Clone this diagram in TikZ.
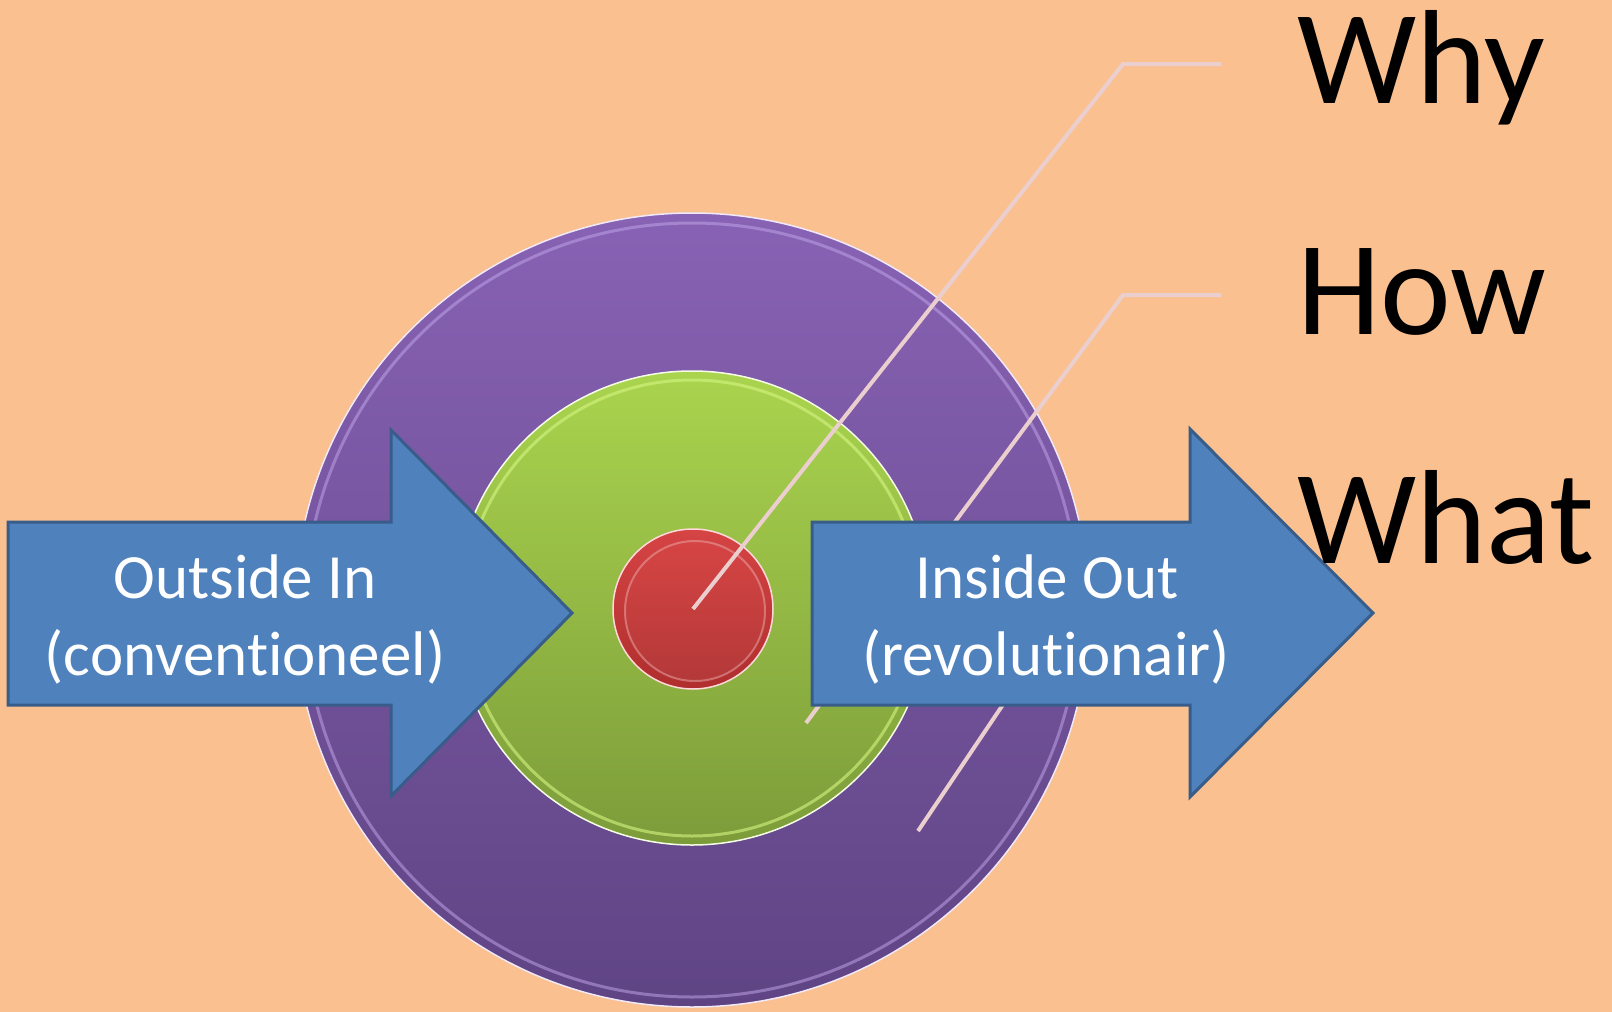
\documentclass[tikz,border=0pt]{standalone}
\usepackage{fontspec}
\setmainfont{Carlito}[Ligatures={NoCommon}]
\definecolor{bg}{HTML}{FAC090}
\definecolor{arrfill}{HTML}{4F81BD}
\definecolor{arrdraw}{HTML}{385D8A}
\definecolor{purTop}{HTML}{8862B4}
\definecolor{purBot}{HTML}{5F4484}
\definecolor{purRim}{HTML}{C4A8EC}
\definecolor{grnTop}{HTML}{AAD44E}
\definecolor{grnBot}{HTML}{7C9C3A}
\definecolor{grnRim}{HTML}{D4F582}
\definecolor{redTop}{HTML}{D64444}
\definecolor{redBot}{HTML}{B02E2E}
\definecolor{redRim}{HTML}{F0B8B8}
\definecolor{conn}{HTML}{EBCFCF}
\begin{document}
\begin{tikzpicture}[x=1pt,y=-1pt,
  disc/.style={circle,inner sep=0pt,outer sep=0pt},
  connline/.style={draw=conn,line width=4pt},
  bigarrow/.style={fill=arrfill,draw=arrdraw,line width=3pt,line join=miter},
  arrtext/.style={text=white,font=\fontsize{63}{77}\selectfont,anchor=base},
  lvl/.style={text=black,font=\fontsize{134}{160}\selectfont,anchor=base west,inner sep=0pt}]
\fill[bg] (0,0) rectangle (1612,1012);
\useasboundingbox (0,0) rectangle (1612,1012);
% outer disc (What)
\node[disc,minimum size=794pt,top color=purTop,bottom color=purBot,draw=white!75!purRim,line width=1.5pt] (outer) at (692,610) {};
\node[disc,minimum size=774pt,draw=purRim,draw opacity=0.5,line width=3pt] (outerb) at (692,610) {};
% middle disc (How)
\node[disc,minimum size=474pt,top color=grnTop,bottom color=grnBot,draw=white!80!grnRim,line width=1.5pt] (mid) at (692,608) {};
\node[disc,minimum size=456pt,draw=grnRim,draw opacity=0.6,line width=3pt] (midb) at (692,608) {};
% inner disc (Why)
\node[disc,minimum size=160pt,top color=redTop,bottom color=redBot,draw=white!85!red,line width=1.5pt] (inner) at (693,609) {};
\node[disc,minimum size=140pt,top color=redTop,bottom color=redBot!95!white,draw=redRim,draw opacity=0.45,line width=2pt] (innerb) at (695,611) {};
% connectors
\coordinate (whyS) at (693,609);
\coordinate (whyK) at (1123,64);
\coordinate (whyE) at (1221,64);
\coordinate (howS) at (806,723);
\coordinate (howK) at (1123,295);
\coordinate (howE) at (1221,295);
\coordinate (whatS) at (918,831);
\coordinate (whatK) at (1123,526);
\coordinate (whatE) at (1221,526);
\draw[connline] (whyS) -- (whyK) -- (whyE);
\draw[connline] (howS) -- (howK) -- (howE);
\draw[connline] (whatS) -- (whatK) -- (whatE);
% arrows
\draw[bigarrow] (8,522) -- (391,522) -- (391,430) -- (572,613) -- (391,796) -- (391,705) -- (8,705) -- cycle;
\draw[bigarrow] (812,522) -- (1190,522) -- (1190,429) -- (1373,613) -- (1190,797) -- (1190,705) -- (812,705) -- cycle;
\node[arrtext] (oi1) at (245,598) {Outside In};
\node[arrtext] (oi2) at (245,675) {(conventioneel)};
\node[arrtext] (io1) at (1047,598) {Inside Out};
\node[arrtext] (io2) at (1046,675) {(revolutionair)};
% labels
\node[lvl] (why) at (1297,103) {Why};
\node[lvl] (how) at (1297,334) {How};
\node[lvl] (what) at (1297,563) {What};
\end{tikzpicture}
\end{document}
